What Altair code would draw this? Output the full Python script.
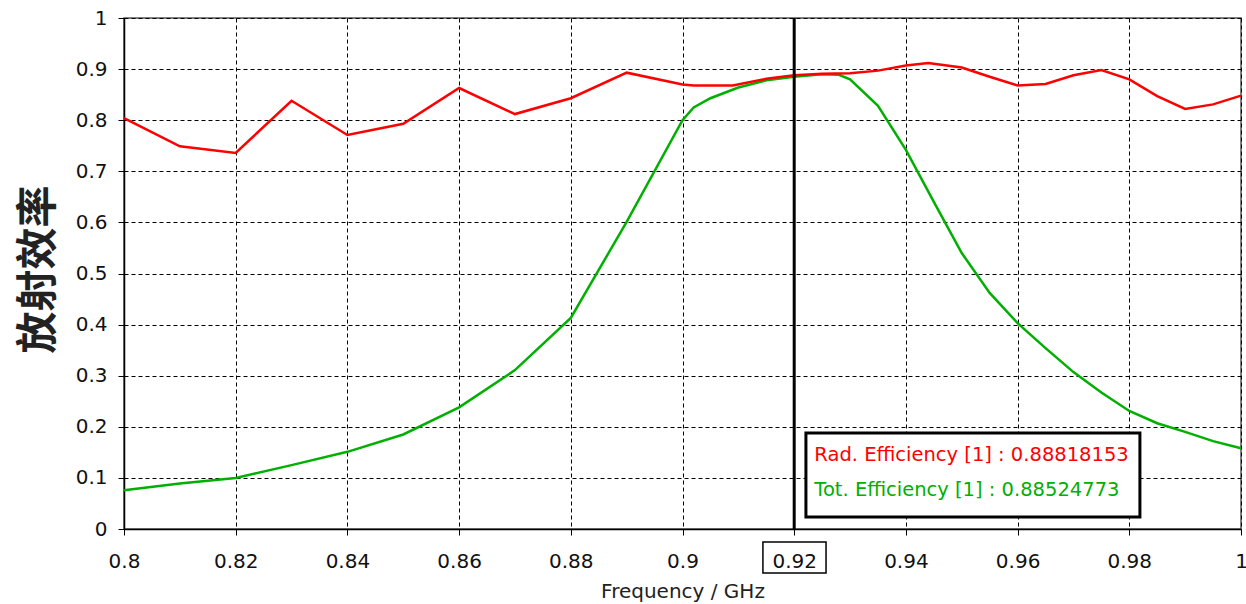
import altair as alt
import pandas as pd

# ---------------- data ----------------
freq_rad = [0.80, 0.81, 0.82, 0.83, 0.84, 0.85, 0.86, 0.87, 0.88, 0.89, 0.90,
            0.902, 0.909, 0.915, 0.92, 0.925, 0.93, 0.935, 0.94, 0.944, 0.95,
            0.955, 0.96, 0.965, 0.97, 0.975, 0.98, 0.985, 0.99, 0.995, 1.0]
rad_eff = [0.804, 0.749, 0.736, 0.838, 0.771, 0.793, 0.863, 0.812, 0.843, 0.893, 0.870,
           0.868, 0.868, 0.881, 0.888, 0.891, 0.892, 0.897, 0.907, 0.912, 0.903,
           0.885, 0.868, 0.871, 0.888, 0.898, 0.880, 0.847, 0.822, 0.831, 0.848]

freq_tot = [0.80, 0.81, 0.82, 0.83, 0.84, 0.85, 0.86, 0.87, 0.88, 0.89, 0.90,
            0.902, 0.905, 0.91, 0.915, 0.92, 0.925, 0.928, 0.93, 0.935, 0.94,
            0.945, 0.95, 0.955, 0.96, 0.965, 0.97, 0.975, 0.98, 0.985, 0.99, 0.995, 1.0]
tot_eff = [0.076, 0.089, 0.100, 0.125, 0.151, 0.185, 0.238, 0.311, 0.413, 0.601, 0.800,
           0.825, 0.843, 0.864, 0.878, 0.885, 0.890, 0.889, 0.880, 0.828, 0.742,
           0.640, 0.540, 0.462, 0.403, 0.354, 0.307, 0.267, 0.231, 0.207, 0.190, 0.172, 0.158]

x_ticks = [0.8, 0.82, 0.84, 0.86, 0.88, 0.9, 0.92, 0.94, 0.96, 0.98, 1.0]
y_ticks = [0, 0.1, 0.2, 0.3, 0.4, 0.5, 0.6, 0.7, 0.8, 0.9, 1.0]

marker_freq = 0.92
legend_labels = ["Rad. Efficiency [1] : 0.88818153", "Tot. Efficiency [1] : 0.88524773"]
legend_colors = ["#ff0000", "#00b000"]

# annotation placement (data space)
legend_box = {"x": 0.9221, "x2": 0.9819, "y": 0.188, "y2": 0.0235}
legend_text_x = 0.9236
legend_text_y = [0.1448, 0.0763]
marker_box = {"x": 0.9144, "x2": 0.9257}

FONT = "DejaVu Sans"

df_rad = pd.DataFrame({"f": freq_rad, "v": rad_eff})
df_tot = pd.DataFrame({"f": freq_tot, "v": tot_eff})
df_marker = pd.DataFrame({"f": [marker_freq]})
df_box = pd.DataFrame([legend_box])
df_text = pd.DataFrame({"x": [legend_text_x] * 2, "y": legend_text_y,
                        "label": legend_labels, "color": legend_colors})
df_mbox = pd.DataFrame([marker_box])

xs = alt.Scale(domain=[0.8, 1.0], nice=False, zero=False)
ys = alt.Scale(domain=[0, 1], nice=False, zero=False)

x_axis = alt.Axis(values=x_ticks, format="~g", title="Frequency / GHz",
                  grid=True, gridDash=[4, 3], gridColor="#000", gridWidth=1,
                  tickSize=6, tickColor="#000", labelPadding=16,
                  domainColor="#000", domainWidth=1.5,
                  labelFont=FONT, labelFontSize=20, labelColor="#111",
                  labelOverlap=False, labelFlush=False, labelBound=False,
                  titleFont=FONT, titleFontSize=20, titleFontWeight="normal",
                  titleColor="#222", titleY=68, titleBaseline="alphabetic")
y_axis = alt.Axis(values=y_ticks, format="~g", title="放射效率",
                  grid=True, gridDash=[4, 3], gridColor="#000", gridWidth=1,
                  tickSize=6, tickColor="#000", labelPadding=11,
                  domainColor="#000", domainWidth=1.5,
                  labelFont=FONT, labelFontSize=20, labelColor="#111",
                  labelOverlap=False, labelFlush=False, labelBound=False,
                  titleFont="Noto Sans CJK SC", titleFontSize=42, titleFontWeight="bold",
                  titleColor="#222", titleAngle=270, titleX=-86, titleY=251,
                  titleAlign="center", titleBaseline="middle")

X = lambda f: alt.X(f, scale=xs, axis=x_axis)
Y = lambda f: alt.Y(f, scale=ys, axis=y_axis)

tot_line = alt.Chart(df_tot).mark_line(color="#00b000", strokeWidth=2.5).encode(
    x=X("f:Q"), y=Y("v:Q"),
)
rad_line = alt.Chart(df_rad).mark_line(color="#ff0000", strokeWidth=2.5).encode(
    x=X("f:Q"), y=Y("v:Q"),
)
marker = alt.Chart(df_marker).mark_rule(color="#000", strokeWidth=3).encode(
    x=X("f:Q"),
)
box = alt.Chart(df_box).mark_rect(fill="white", stroke="#000", strokeWidth=3).encode(
    x=X("x:Q"), x2="x2:Q",
    y=Y("y:Q"), y2="y2:Q",
)
texts = alt.Chart(df_text).mark_text(align="left", baseline="middle", font=FONT,
                                     fontSize=19.5).encode(
    x=X("x:Q"), y=Y("y:Q"),
    text="label:N",
    color=alt.Color("color:N", scale=None),
)
mbox = alt.Chart(df_mbox).mark_rect(fill="white", fillOpacity=0, stroke="#000",
                                    strokeWidth=1.5).encode(
    x=X("x:Q"), x2="x2:Q",
    y=alt.value(524), y2=alt.value(555),
)

chart = alt.layer(tot_line, rad_line, marker, box, texts, mbox).properties(
    width=1117, height=511,
    autosize=alt.AutoSizeParams(type="none"),
    padding={"left": 124, "top": 18, "right": 5, "bottom": 75},
    background="white",
).configure_view(stroke="#555", strokeWidth=1.5)

chart.save("out.html", embed_options={"renderer": "svg", "actions": False})
